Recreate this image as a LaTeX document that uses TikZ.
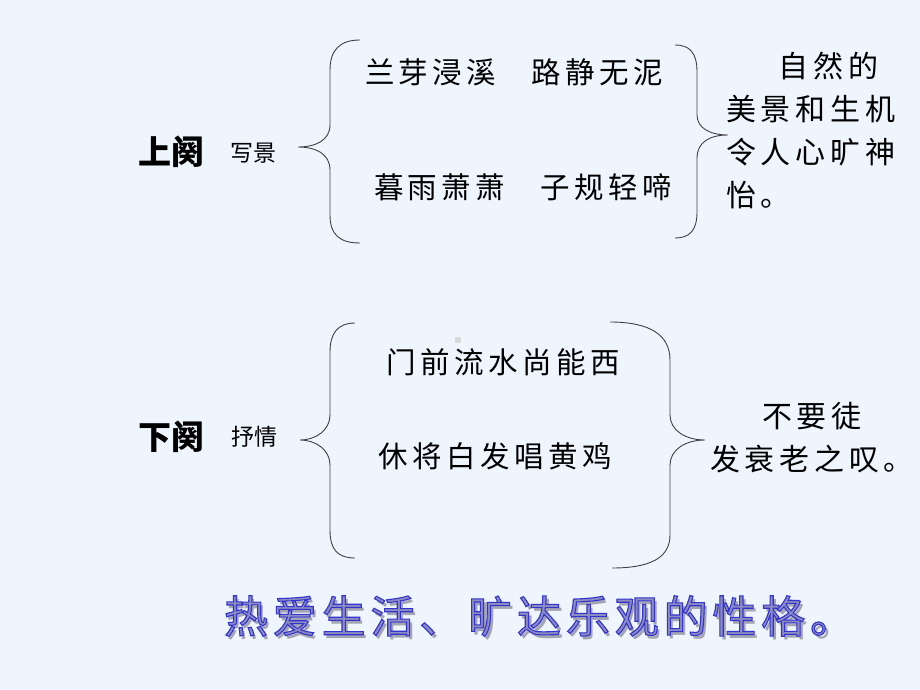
\documentclass[tikz,border=0pt]{standalone}
\usepackage{fontspec}
\usepackage{xcolor}
\usetikzlibrary{positioning}
\newfontfamily\cjk{Noto Sans CJK SC}
\newfontfamily\cjkverse[LetterSpace=15]{Noto Sans CJK SC}
\newfontfamily\cjkwide[LetterSpace=16]{Noto Sans CJK SC}
\newfontfamily\cjkmotto[LetterSpace=11]{Noto Sans CJK SC}
\definecolor{slidebg}{RGB}{238,245,253}
\definecolor{facegray}{RGB}{140,140,190}
\definecolor{shadegray}{RGB}{165,165,178}
% outlined glyphs: blue rim, grey face
\newcommand{\rimtext}[1]{\special{pdf:literal direct 0.2 0.2 0.82 RG 1.1 w 2 Tr}#1\special{pdf:literal direct 0 Tr}}

\tikzset{
  verse/.style={inner sep=0pt, font=\cjkverse\fontsize{29.5}{34}\selectfont},
  part/.style={inner sep=0pt, font=\cjk\bfseries\fontsize{33}{38}\selectfont},
  theme/.style={inner sep=0pt, font=\cjk\fontsize{23}{26}\selectfont},
  gloss/.style={inner sep=0pt, font=\cjkwide\fontsize{30}{43}\selectfont},
  curly/.style={line width=0.9pt, black!75},
  motto/.style={inner sep=0pt, font=\cjkmotto\fontsize{44}{50}\selectfont}
}

\begin{document}
\begin{tikzpicture}[x=1pt, y=-1pt]
  \fill[slidebg] (0,0) rectangle (920,690);
  \useasboundingbox (0,0) rectangle (920,690);

  % upper half
  \node[part] (up) at (171,152) {上阕};
  \node[theme] (upt) at (253,153) {写景};
  \node[verse] (v1) at (514,72) {兰芽浸溪\hspace{1.2em}路静无泥};
  \node[verse] (v2) at (523,187) {暮雨萧萧\hspace{1.2em}子规轻啼};
  \node[gloss, align=left, anchor=north west] (g1) at (726,52)
    {\hspace{1.75em}自然的\\美景和生机\\令人心旷神\\怡。};

  \draw[curly] (360,40) .. controls (340,40) and (330,50) .. (330,70) -- (330,125)
    .. controls (330,140) and (316,147) .. (298,147)
    .. controls (316,147) and (330,154) .. (330,170) -- (330,215)
    .. controls (330,235) and (340,243) .. (360,243);
  \draw[curly] (675,45) .. controls (690,45) and (697,53) .. (697,72) -- (697,115)
    .. controls (697,128) and (710,135) .. (728,135)
    .. controls (710,135) and (697,142) .. (697,158) -- (697,212)
    .. controls (697,230) and (690,238) .. (675,238);

  % lower half
  \node[part] (down) at (171,437) {下阕};
  \node[theme] (downt) at (254,437) {抒情};
  \node[verse] (v3) at (503,362) {门前流水尚能西};
  \node[verse] (v4) at (495,456) {休将白发唱黄鸡};
  \node[gloss, align=center] (g2) at (812,438) {不要徒\\发衰老之叹。};
  \fill[black!15] (455,337) rectangle (461,343);

  \draw[curly] (355,323) .. controls (338,323) and (330,333) .. (330,352) -- (330,415)
    .. controls (330,430) and (316,440) .. (300,440)
    .. controls (316,440) and (330,450) .. (330,465) -- (330,530)
    .. controls (330,550) and (338,558) .. (355,558);
  \draw[curly] (610,322) .. controls (650,322) and (670,335) .. (670,360) -- (670,415)
    .. controls (670,430) and (685,440) .. (705,440)
    .. controls (685,440) and (670,450) .. (670,465) -- (670,535)
    .. controls (670,558) and (650,568) .. (612,568);

  % conclusion
  \node[motto, text=shadegray] (shade) at (542,620) {热爱生活、旷达乐观的性格。};
  \node[motto, text=facegray] (motto) at (539,616) {\rimtext{热爱生活、旷达乐观的性格。}};
\end{tikzpicture}
\end{document}
